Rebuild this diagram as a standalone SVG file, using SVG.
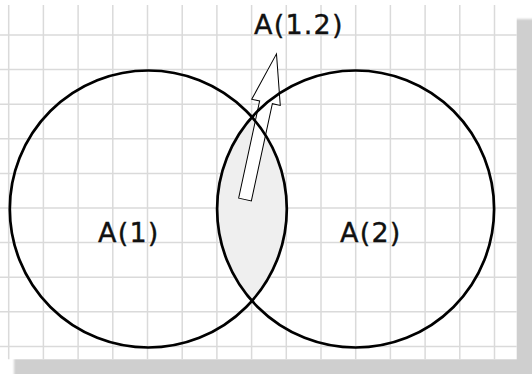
<svg xmlns="http://www.w3.org/2000/svg" width="532" height="374" viewBox="0 0 532 374">
  <defs>
    <style>
      .grid line { stroke: #dadada; stroke-width: 1.5; }
      .circle { fill: none; stroke: #000; stroke-width: 2.7; }
      .lbl { font-family: "DejaVu Sans", "Liberation Sans", sans-serif; font-size: 27px; fill: #111; stroke: #111; stroke-width: 0.35; letter-spacing: 1.2px; }
      .arrow { fill: #fff; stroke: #000; stroke-width: 1; stroke-linejoin: miter; }
    </style>
    <filter id="soft" x="-5%" y="-5%" width="110%" height="110%">
      <feGaussianBlur stdDeviation="0.8"/>
    </filter>
  </defs>
  <rect x="0" y="0" width="532" height="374" fill="#fff"/>
  <!-- shadow -->
  <rect x="14" y="19" width="520" height="358" fill="#cfcfcf" filter="url(#soft)"/>
  <!-- paper -->
  <rect x="0" y="5" width="516.7" height="354.3" fill="#fff"/>
  <g class="grid" id="grid">
    <line x1="8.7" y1="5" x2="8.7" y2="359.3"/>
    <line x1="43.4" y1="5" x2="43.4" y2="359.3"/>
    <line x1="78.1" y1="5" x2="78.1" y2="359.3"/>
    <line x1="112.8" y1="5" x2="112.8" y2="359.3"/>
    <line x1="147.5" y1="5" x2="147.5" y2="359.3"/>
    <line x1="182.2" y1="5" x2="182.2" y2="359.3"/>
    <line x1="216.9" y1="5" x2="216.9" y2="359.3"/>
    <line x1="251.6" y1="5" x2="251.6" y2="359.3"/>
    <line x1="286.3" y1="5" x2="286.3" y2="359.3"/>
    <line x1="321" y1="5" x2="321" y2="359.3"/>
    <line x1="355.7" y1="5" x2="355.7" y2="359.3"/>
    <line x1="390.4" y1="5" x2="390.4" y2="359.3"/>
    <line x1="425.1" y1="5" x2="425.1" y2="359.3"/>
    <line x1="459.8" y1="5" x2="459.8" y2="359.3"/>
    <line x1="494.5" y1="5" x2="494.5" y2="359.3"/>
    <line x1="0" y1="35" x2="516.7" y2="35"/>
    <line x1="0" y1="69.6" x2="516.7" y2="69.6"/>
    <line x1="0" y1="104.2" x2="516.7" y2="104.2"/>
    <line x1="0" y1="138.8" x2="516.7" y2="138.8"/>
    <line x1="0" y1="173.4" x2="516.7" y2="173.4"/>
    <line x1="0" y1="208" x2="516.7" y2="208"/>
    <line x1="0" y1="242.6" x2="516.7" y2="242.6"/>
    <line x1="0" y1="277.2" x2="516.7" y2="277.2"/>
    <line x1="0" y1="311.8" x2="516.7" y2="311.8"/>
    <line x1="0" y1="346.4" x2="516.7" y2="346.4"/>
  </g>
  <!-- intersection A(1.2) -->
  <g id="node-a12-region">
    <path d="M 251.95 117.14 A 138.5 138.5 0 0 1 251.95 300.86 A 138.5 138.5 0 0 1 251.95 117.14 Z" fill="#efefef"/>
  </g>
  <g id="connectors">
    <polygon class="arrow" transform="translate(245 199.5) rotate(12.2)" points="-6.5,0 6.5,0 6.5,-99.4 14.6,-99.4 0,-149 -14.6,-99.4 -6.5,-99.4"/>
  </g>
  <g id="node-a1">
    <circle class="circle" cx="148.3" cy="209" r="138.5"/>
    <text class="lbl" x="98" y="242">A(1)</text>
  </g>
  <g id="node-a2">
    <circle class="circle" cx="355.6" cy="209" r="138.5"/>
    <text class="lbl" x="340" y="242">A(2)</text>
  </g>
  <g id="node-a12">
    <text class="lbl" x="254" y="33.5">A(1.2)</text>
  </g>
</svg>
